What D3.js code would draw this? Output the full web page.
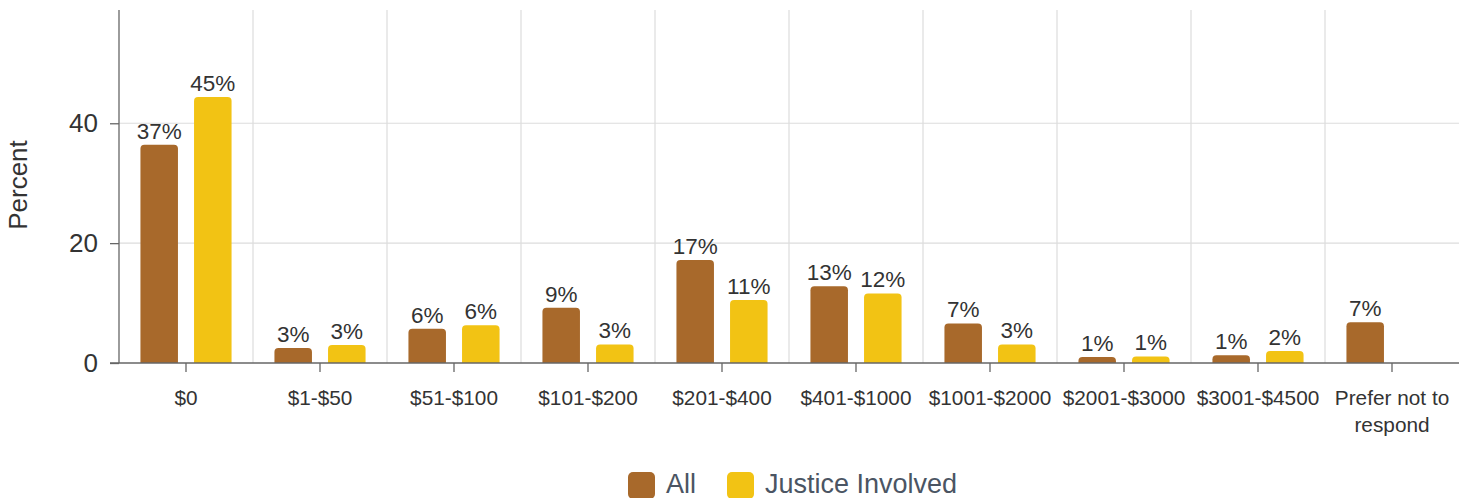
<!DOCTYPE html>
<html>
<head>
<meta charset="utf-8">
<script src="https://cdn.jsdelivr.net/npm/d3@7"></script>
<style>
  body { margin: 0; background: #fff; }
  text { font-family: "Liberation Sans", Arial, sans-serif; }
</style>
</head>
<body>
<svg id="chart" width="1470" height="498"></svg>
<script>
const categories = ["$0", "$1-$50", "$51-$100", "$101-$200", "$201-$400", "$401-$1000",
    "$1001-$2000", "$2001-$3000", "$3001-$4500", "Prefer not to respond"];
const seriesNames = ["All", "Justice Involved"];
const allValues = [36.4, 2.5, 5.7, 9.2, 17.2, 12.8, 6.6, 1.0, 1.3, 6.8];
const jiValues = [44.4, 3.0, 6.3, 3.1, 10.5, 11.6, 3.1, 1.1, 2.0, null];
const allLabels = ["37%", "3%", "6%", "9%", "17%", "13%", "7%", "1%", "1%", "7%"];
const jiLabels = ["45%", "3%", "6%", "3%", "11%", "12%", "3%", "1%", "2%", ""];
const yTicks = [0, 20, 40];
const colors = ["#a8692b", "#f2c314"];

const svg = d3.select("#chart");
const plotLeft = 119, plotRight = 1459, plotTop = 10, plotBottom = 363;

const x = d3.scaleBand().domain(categories).range([plotLeft, plotRight]);
const xInner = d3.scaleBand().domain(seriesNames).range([0, x.bandwidth()]).paddingInner(0.3).paddingOuter(0.4);
const y = d3.scaleLinear().domain([0, 58.9]).range([plotBottom, plotTop]);

// grid
const grid = svg.append("g");
grid.selectAll(".hgrid")
    .data(yTicks.filter(d => d > 0))
    .join("line")
    .attr("x1", plotLeft).attr("x2", plotRight)
    .attr("y1", d => y(d)).attr("y2", d => y(d))
    .attr("stroke", "#dcdcdc").attr("stroke-width", 1.2);
grid.selectAll(".vgrid")
    .data(categories.slice(1))
    .join("line")
    .attr("x1", d => x(d)).attr("x2", d => x(d))
    .attr("y1", plotTop).attr("y2", plotBottom)
    .attr("stroke", "#dcdcdc").attr("stroke-width", 1.2);

// bars
const rows = categories.map((c, i) => ({
    cat: c,
    vals: [
        { s: 0, v: allValues[i], label: allLabels[i] },
        { s: 1, v: jiValues[i], label: jiLabels[i] }
    ].filter(d => d.v != null)
}));

const groups = svg.append("g").selectAll("g")
    .data(rows)
    .join("g")
    .attr("transform", d => `translate(${x(d.cat)},0)`);

function barPath(x0, w, yTop, yBot, r) {
    r = Math.min(r, (yBot - yTop), w / 2);
    return `M${x0},${yBot}V${yTop + r}Q${x0},${yTop} ${x0 + r},${yTop}H${x0 + w - r}Q${x0 + w},${yTop} ${x0 + w},${yTop + r}V${yBot}Z`;
}

groups.selectAll("path")
    .data(d => d.vals)
    .join("path")
    .attr("d", d => barPath(xInner(seriesNames[d.s]), xInner.bandwidth(), y(d.v), y(0), 4))
    .attr("fill", d => colors[d.s]);

groups.selectAll("text")
    .data(d => d.vals)
    .join("text")
    .attr("x", d => xInner(seriesNames[d.s]) + xInner.bandwidth() / 2)
    .attr("y", d => y(d.v) - 6)
    .attr("text-anchor", "middle")
    .attr("font-size", 22.5)
    .attr("fill", "#333")
    .text(d => d.label);

// axes
const yAxis = svg.append("g")
    .attr("transform", `translate(${plotLeft},0)`)
    .call(d3.axisLeft(y).tickValues(yTicks).tickSize(9).tickPadding(12));
yAxis.select(".domain").attr("d", `M0,${plotTop}V${plotBottom}`).attr("stroke", "#666").attr("stroke-width", 1.3);
yAxis.selectAll(".tick line").attr("stroke", "#666").attr("stroke-width", 1.3);
yAxis.selectAll(".tick text").attr("font-size", 26).attr("fill", "#333")
    .attr("font-family", "Liberation Sans, Arial, sans-serif");

const xAxis = svg.append("g")
    .attr("transform", `translate(0,${plotBottom})`)
    .call(d3.axisBottom(x).tickSize(9).tickPadding(18));
xAxis.select(".domain").attr("d", `M${plotLeft - 9},0H${plotRight}`).attr("stroke", "#666").attr("stroke-width", 1.3);
xAxis.selectAll(".tick line").attr("stroke", "#666").attr("stroke-width", 1.3);
xAxis.selectAll(".tick text")
    .attr("font-size", 20.8).attr("fill", "#333")
    .attr("font-family", "Liberation Sans, Arial, sans-serif")
    .each(function(d) {
        const t = d3.select(this);
        if (d === "Prefer not to respond") {
            t.text(null);
            t.append("tspan").attr("x", 0).attr("dy", "0.71em").text("Prefer not to");
            t.append("tspan").attr("x", 0).attr("dy", 27).text("respond");
        }
    });

svg.append("text")
    .attr("transform", "translate(27,185) rotate(-90)")
    .attr("text-anchor", "middle")
    .attr("font-size", 26)
    .attr("fill", "#333")
    .text("Percent");

// legend
const legend = svg.append("g").attr("transform", "translate(628,472)");
const legendX = [0, 99];
const items = legend.selectAll("g")
    .data(seriesNames)
    .join("g")
    .attr("transform", (d, i) => `translate(${legendX[i]},0)`);
items.append("rect")
    .attr("width", 27).attr("height", 27).attr("rx", 5)
    .attr("fill", (d, i) => colors[i]);
items.append("text")
    .attr("x", 38).attr("y", 21)
    .attr("font-size", 27)
    .attr("fill", "#4b5563")
    .text(d => d);
</script>
</body>
</html>
